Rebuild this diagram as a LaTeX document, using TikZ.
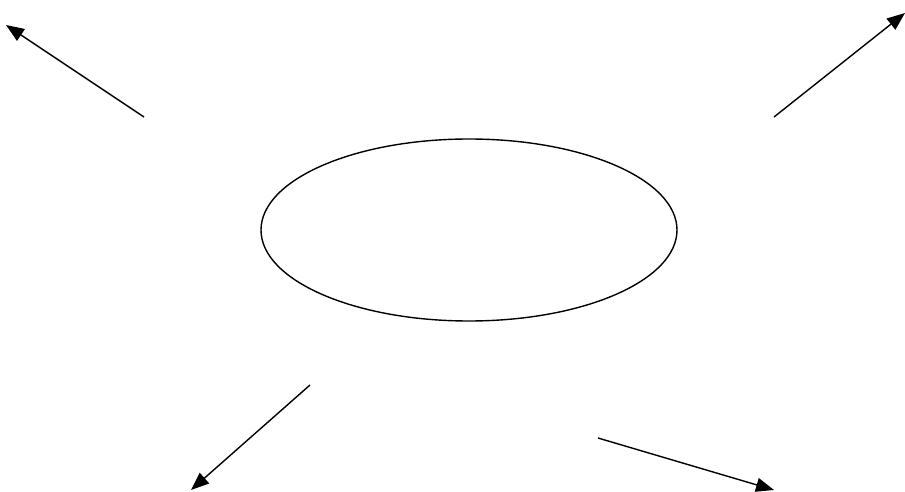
\documentclass[tikz,border=0pt]{standalone}
\usetikzlibrary{arrows.meta, shapes.geometric}

\begin{document}
\begin{tikzpicture}[
  x=1pt, y=-1pt,
  line width=1.4pt,
  hub/.style={draw, ellipse, minimum width=416pt, minimum height=182pt, inner sep=0pt},
  ar/.style={-{Triangle[length=18pt, width=14pt]}}]
\useasboundingbox (0,0) rectangle (905,492);

\node[hub] (core) at (469,230) {};

% free ends of the four arrows
\coordinate (nwA) at (144,117);
\coordinate (nwB) at (6,25);
\coordinate (neA) at (774,117);
\coordinate (neB) at (905,13);
\coordinate (swA) at (310,385);
\coordinate (swB) at (191,490);
\coordinate (seA) at (598,438);
\coordinate (seB) at (774,490);

\draw[ar] (nwA) -- (nwB);
\draw[ar] (neA) -- (neB);
\draw[ar] (swA) -- (swB);
\draw[ar] (seA) -- (seB);
\end{tikzpicture}
\end{document}
